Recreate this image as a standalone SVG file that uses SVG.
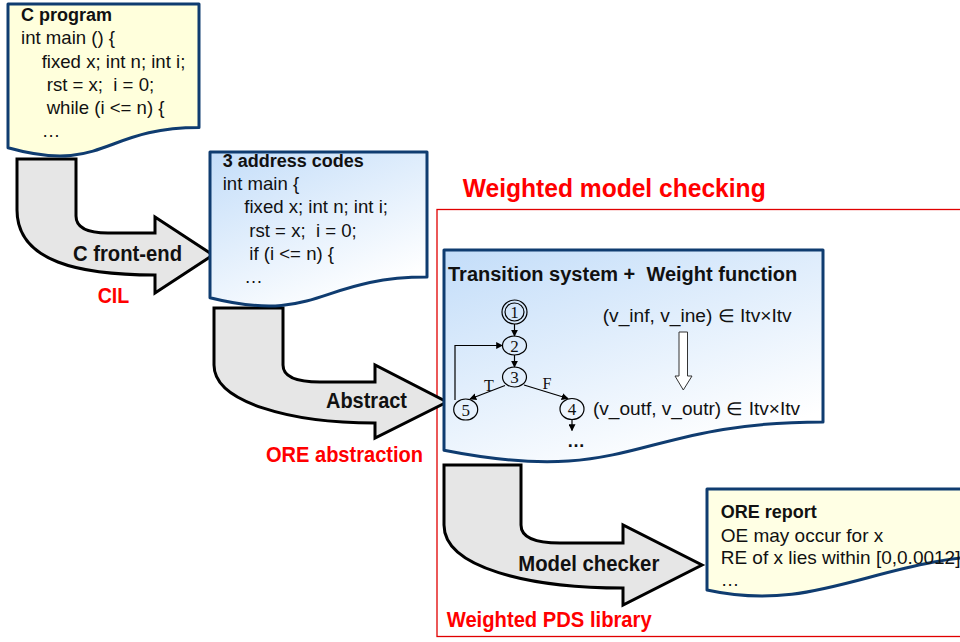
<svg xmlns="http://www.w3.org/2000/svg" width="960" height="642" viewBox="0 0 960 642">
<style>
text{white-space:pre}
.doc{stroke:#0f3c70;stroke-width:3;stroke-linejoin:round}
.yel{fill:#ffffdc}
.blue{fill:url(#bg)}
.t{font-family:"Liberation Sans",Arial,sans-serif;font-size:18.6px;fill:#111}
.b{font-family:"Liberation Sans",Arial,sans-serif;font-weight:bold;font-size:18px;fill:#111}
.big{font-family:"Liberation Sans",Arial,sans-serif;font-weight:bold;font-size:22px;fill:#111}
.red{font-family:"Liberation Sans",Arial,sans-serif;font-weight:bold;font-size:22px;fill:#ff0000}
.arr{fill:#e6e6e6;stroke:#000;stroke-width:3;stroke-linejoin:miter}
.st{fill:none;stroke:#000;stroke-width:1.2}
.sr{font-family:"Liberation Serif","Times New Roman",serif;font-size:17px;fill:#111}
.e{stroke:#000;stroke-width:1.2;fill:none;marker-end:url(#ah)}
</style>
<defs>
<linearGradient id="bg" x1="0" y1="0" x2="0.6" y2="1">
<stop offset="0" stop-color="#c3ddf9"/>
<stop offset="1" stop-color="#ffffff"/>
</linearGradient>
<marker id="ah" viewBox="0 0 10 10" refX="9" refY="5" markerWidth="7" markerHeight="7" markerUnits="userSpaceOnUse" orient="auto">
<path d="M0,0 L10,5 L0,10 Z" fill="#000"/>
</marker>
</defs>
<rect x="437" y="209.5" width="540" height="427" fill="none" stroke="#e00000" stroke-width="1.3"/>
<text class="red" x="462.7" y="197.3" style="font-size:25px" textLength="303" lengthAdjust="spacingAndGlyphs">Weighted model checking</text>
<g id="connectors">
<path class="arr" d="M17,159 H76 V216 C76,227 86,233 108,233 H155 V217 L213,255 L155,293 V275 C80,275 17,262 17,210 Z"/>
<text class="big" x="73" y="260.7" textLength="109" lengthAdjust="spacingAndGlyphs">C front-end</text>
<text class="red" x="97.7" y="303" textLength="31.6" lengthAdjust="spacingAndGlyphs">CIL</text>
<path class="arr" d="M214,308 H283 V365 C283,376 295,382 320,382 H375 V365 L447,402 L375,438 V423 C290,423 214,402 214,365 Z"/>
<text class="big" x="326" y="408.3" textLength="81" lengthAdjust="spacingAndGlyphs">Abstract</text>
<text class="red" x="266" y="461.7" textLength="157" lengthAdjust="spacingAndGlyphs">ORE abstraction</text>
<path class="arr" d="M444,465 H521 V525 C521,537 533,543 560,543 H623 V525 L702,565 L623,605 V588 C530,588 444,568 444,525 Z"/>
<text class="big" x="518.3" y="571" textLength="141" lengthAdjust="spacingAndGlyphs">Model checker</text>
<text class="red" x="446.7" y="626.7" textLength="205" lengthAdjust="spacingAndGlyphs">Weighted PDS library</text>
</g>
<g id="c-program">
<path class="doc yel" d="M8,4 H199 V127.5 C103.5,127.5 103.5,174.6 8,147.8 Z"/>
<text class="b" x="21" y="20.7">C program</text>
<text class="t" x="21" y="44">int main () {</text>
<text class="t" x="41.7" y="67.5">fixed x; int n; int i;</text>
<text class="t" x="46.7" y="91">rst = x;  i = 0;</text>
<text class="t" x="46.7" y="114.3">while (i &lt;= n) {</text>
<text class="t" x="41.7" y="136.7">…</text>
</g>
<g id="three-address-codes">
<path class="doc blue" d="M210,152 H427 V277.1 C318.5,277.1 318.5,324.8 210,297.7 Z"/>
<text class="b" x="222.7" y="166.7">3 address codes</text>
<text class="t" x="222.7" y="190">int main {</text>
<text class="t" x="244.3" y="213.3">fixed x; int n; int i;</text>
<text class="t" x="249.3" y="236.7">rst = x;  i = 0;</text>
<text class="t" x="249.3" y="260">if (i &lt;= n) {</text>
<text class="t" x="244.3" y="283">…</text>
</g>
<g id="transition-system">
<path class="doc blue" d="M444,250 H823 V422 C633.5,422 633.5,487.6 444,450.3 Z"/>
<text class="b" x="448" y="281" style="font-size:20px">Transition system +  Weight function</text>
<g id="ts-graph">
<ellipse class="st" cx="514.5" cy="312" rx="12.5" ry="12"/>
<ellipse class="st" cx="514.5" cy="312" rx="9.5" ry="9"/>
<text class="sr" x="514.5" y="318" text-anchor="middle">1</text>
<ellipse class="st" cx="514.5" cy="345.5" rx="12" ry="9.5"/>
<text class="sr" x="514.5" y="351.5" text-anchor="middle">2</text>
<ellipse class="st" cx="514.5" cy="377" rx="12" ry="10"/>
<text class="sr" x="514.5" y="383" text-anchor="middle">3</text>
<ellipse class="st" cx="465.7" cy="409.5" rx="12" ry="10.5"/>
<text class="sr" x="465.7" y="415.5" text-anchor="middle">5</text>
<ellipse class="st" cx="572" cy="409" rx="12" ry="10.5"/>
<text class="sr" x="572" y="415" text-anchor="middle">4</text>
<line class="e" x1="514.5" y1="324" x2="514.5" y2="336"/>
<line class="e" x1="514.5" y1="355" x2="514.5" y2="367"/>
<line class="e" x1="505" y1="385.5" x2="470" y2="399"/>
<line class="e" x1="524" y1="385" x2="568" y2="398.5"/>
<polyline class="e" points="455,400 455,345.5 502.5,345.5"/>
<line class="e" x1="572" y1="419.5" x2="572" y2="430.5"/>
<text class="sr" x="489" y="391" style="font-size:16px" text-anchor="middle">T</text>
<text class="sr" x="547" y="389" style="font-size:16px" text-anchor="middle">F</text>
<text class="b" x="576" y="447" text-anchor="middle">…</text>
</g>
<text class="t" x="602.7" y="322" style="font-size:18px" textLength="189" lengthAdjust="spacingAndGlyphs">(v_inf, v_ine) ∈ Itv×Itv</text>
<path d="M679,332 H687.5 V376 H692 L683.3,390 L675,376 H679 Z" fill="#fff" stroke="#333" stroke-width="1"/>
<text class="t" x="593" y="415" style="font-size:18px" textLength="207" lengthAdjust="spacingAndGlyphs">(v_outf, v_outr) ∈ Itv×Itv</text>
</g>
<g id="ore-report">
<path class="doc" fill="#ffffe4" d="M707,489 H1010 V555 C880,555 820,615 707,590 Z"/>
<text class="b" x="720.7" y="518.3">ORE report</text>
<text class="t" x="720.7" y="541.7" style="font-size:19px">OE may occur for x</text>
<text class="t" x="720.7" y="563.7" style="font-size:19px">RE of x lies within [0,0.0012]</text>
<text class="t" x="720.7" y="586">…</text>
</g>
</svg>
